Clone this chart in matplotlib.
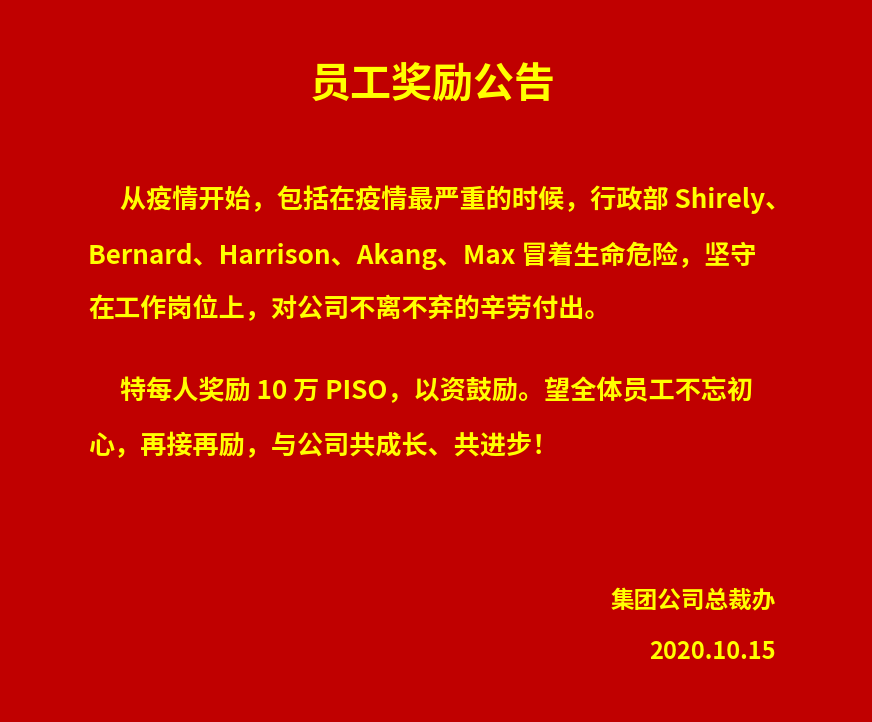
import matplotlib
matplotlib.use("Agg")
from matplotlib import pyplot as plt

plt.rcParams['font.family'] = ['Noto Sans CJK SC', 'DejaVu Sans']

title = "员工奖励公告"
body_lines = [
    ("从疫情开始，包括在疫情最严重的时候，行政部 Shirely、", 120, 200),
    ("Bernard、Harrison、Akang、Max 冒着生命危险，坚守", 88, 256),
    ("在工作岗位上，对公司不离不弃的辛劳付出。", 88, 310),
    ("特每人奖励 10 万 PISO，以资鼓励。望全体员工不忘初", 120, 392),
    ("心，再接再励，与公司共成长、共进步！", 88, 447),
]
sign_lines = [("集团公司总裁办", 601), ("2020.10.15", 652)]

W, H = 872, 722
fig = plt.figure(figsize=(W / 100, H / 100), dpi=100)
fig.patch.set_facecolor('#C00000')
yellow = '#FFFF00'

def px(x, y):
    return x / W, 1 - y / H

fig.text(*px(433, 85), title, color=yellow, fontsize=29.5, fontweight='bold',
         ha='center', va='center')
for txt, x, y in body_lines:
    fig.text(*px(x, y), txt, color=yellow, fontsize=18.8, fontweight='bold',
             ha='left', va='center')
for txt, y in sign_lines:
    fig.text(*px(776, y), txt, color=yellow, fontsize=17, fontweight='bold',
             ha='right', va='center')

plt.savefig('out.png', dpi=100, facecolor=fig.get_facecolor())
